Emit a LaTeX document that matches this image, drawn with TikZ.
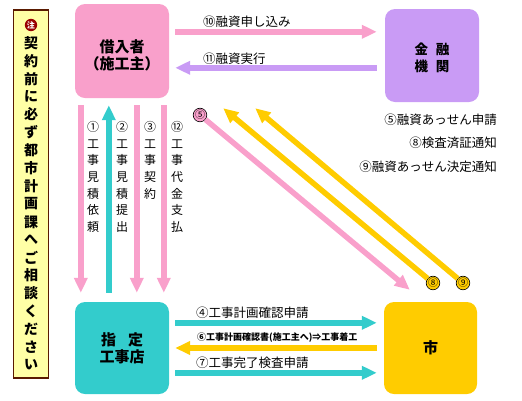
\documentclass[tikz,border=0pt]{standalone}
\usepackage{fontspec}
\setmainfont{Noto Sans CJK JP}
\usetikzlibrary{arrows.meta}
\definecolor{pinkc}{HTML}{F9A0CB}
\definecolor{purc}{HTML}{C99BF5}
\definecolor{tealc}{HTML}{33CCCC}
\definecolor{yelc}{HTML}{FFCC00}
\definecolor{banfill}{HTML}{FFFFA6}
\definecolor{banline}{HTML}{5A1A00}
\definecolor{notec}{HTML}{990000}
\begin{document}
\begin{tikzpicture}[x=1pt,y=-1pt,
  box/.style={rounded corners=10pt, inner sep=0pt, align=center,
    font=\fontsize{15}{17}\selectfont\bfseries},
  arr/.style={line width=5.5pt, -{Triangle[length=15pt,width=13pt]}},
  lab/.style={font=\fontsize{12.5}{14}\selectfont, inner sep=0pt},
  vlab/.style={font=\fontsize{12}{16.7}\selectfont, inner sep=0pt, align=center, anchor=north},
  bchar/.style={font=\fontsize{14}{14}\selectfont\bfseries, inner sep=0pt},
  smallc/.style={circle, draw=black, line width=0.6pt, inner sep=0pt, minimum size=12pt,
    font=\fontsize{10}{10}\selectfont}]
\useasboundingbox (0,0) rectangle (522,400);
% banner
\node[draw=banline, line width=1.3pt, fill=banfill, minimum width=35pt, minimum height=368pt, inner sep=0pt] (banner) at (31,194) {};
\node[circle, fill=notec, inner sep=0.5pt, minimum size=12pt, text=white, font=\fontsize{8}{8}\selectfont\bfseries] (note) at (31,25) {注};
\foreach \c [count=\i] in {契,約,前,に,必,ず,都,市,計,画,課,へ,ご,相,談,く,だ,さ,い}
  \node[bchar] (b\i) at (31,{25+17.9*\i}) {\c};
% boxes
\node[box, fill=pinkc, minimum width=94pt, minimum height=94pt] (A) at (122,51) {\rule{0pt}{22pt}借入者\\（施工主）};
\node[box, fill=purc, minimum width=94pt, minimum height=93pt, font=\fontsize{13.5}{17}\selectfont\bfseries] (B) at (432,55.5) {\rule{0pt}{16pt}金\hspace{8pt}融\\機\hspace{8pt}関};
\node[box, fill=tealc, minimum width=94pt, minimum height=92pt] (C) at (122,348) {指\hspace{12pt}定\\工事店};
\node[box, fill=yelc, minimum width=93pt, minimum height=92pt] (D) at (430.5,348) {市};
% small circles
\node[smallc, fill=pinkc] (s5) at (200,115) {⑤};
\node[smallc, fill=yelc] (s8) at (433,283) {⑧};
\node[smallc, fill=yelc] (s9) at (463,283) {⑨};
% horizontal arrows
\draw[arr, pinkc] ([shift={(6,28)}]A.north east) -- ([shift={(-8,23)}]B.north west);
\draw[arr, purc] ([shift={(-8,59)}]B.north west) -- ([shift={(6,64)}]A.north east);
\draw[arr, tealc] ([shift={(6,21)}]C.north east) -- ([shift={(-7,21)}]D.north west);
\draw[arr, yelc] ([xshift=-7pt]D.west) -- ([xshift=6pt]C.east);
\draw[arr, tealc] ([shift={(6,71)}]C.north east) -- ([shift={(-7,71)}]D.north west);
% vertical arrows
\draw[arr, pinkc] ([shift={(6,7)}]A.south west) -- ([shift={(6,-9)}]C.north west);
\draw[arr, tealc] ([shift={(34,-9)}]C.north west) -- ([shift={(34,7)}]A.south west);
\draw[arr, pinkc] ([shift={(62,7)}]A.south west) -- ([shift={(62,-9)}]C.north west);
\draw[arr, pinkc] ([shift={(89,7)}]A.south west) -- ([shift={(89,-9)}]C.north west);
% diagonal arrows
\draw[arr, pinkc] (s5) -- ([shift={(26,-12)}]D.north west);
\draw[arr, yelc] (s8) -- ([shift={(54,10)}]A.south east);
\draw[arr, yelc] (s9) -- ([shift={(86,10)}]A.south east);
% labels
\node[lab, anchor=west] (t10) at (203,22) {⑩融資申し込み};
\node[lab, anchor=west] (t11) at (203,59) {⑪融資実行};
\node[lab, anchor=east] (t5) at (497,120) {⑤融資あっせん申請};
\node[lab, anchor=east] (t8) at (497,143) {⑧検査済証通知};
\node[lab, anchor=east] (t9) at (497,167) {⑨融資あっせん決定通知};
\node[lab, anchor=west] (t4) at (196,313) {④工事計画確認申請};
\node[lab, anchor=west, font=\fontsize{9}{10}\selectfont\bfseries] (t6) at (197,338) {⑥工事計画確認書(施工主へ)⇒工事着工};
\node[lab, anchor=west] (t7) at (196,363) {⑦工事完了検査申請};
\node[vlab] (v1) at (93,121) {①\\工\\事\\見\\積\\依\\頼};
\node[vlab] (v2) at (122,121) {②\\工\\事\\見\\積\\提\\出};
\node[vlab] (v3) at (150,121) {③\\工\\事\\契\\約};
\node[vlab] (v12) at (177,121) {⑫\\工\\事\\代\\金\\支\\払};
\end{tikzpicture}
\end{document}
